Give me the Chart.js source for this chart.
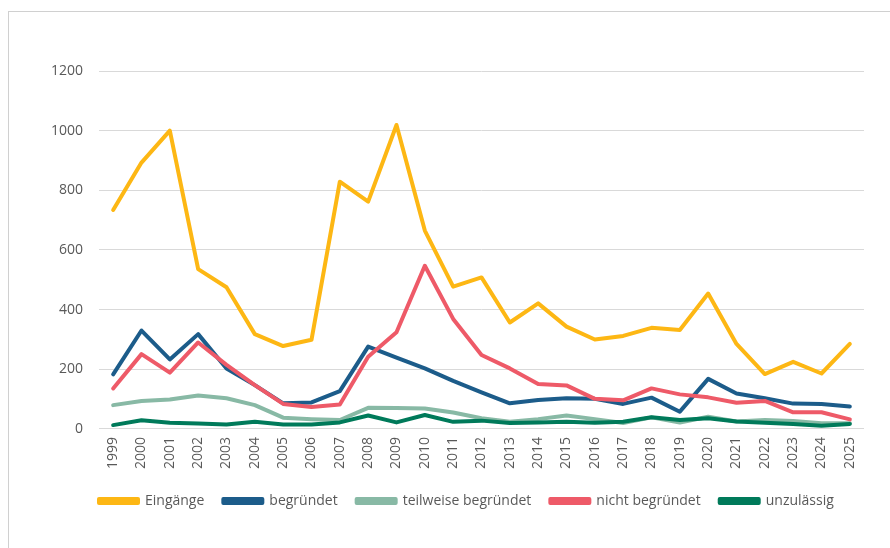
<!DOCTYPE html>
<html>
<head>
<meta charset="utf-8">
<script src="https://cdn.jsdelivr.net/npm/chart.js@4.4.1/dist/chart.umd.min.js"></script>
<style>
  html, body { margin: 0; padding: 0; background: #ffffff; }
  #wrap { position: relative; width: 890px; height: 548px; overflow: hidden; background: #ffffff; }
  #frame { position: absolute; left: 8px; top: 11px; width: 1000px; height: 1000px; border: 1px solid #d0d0d0; box-sizing: border-box; }
  #c { position: absolute; left: 0; top: 0; }
</style>
</head>
<body>
<div id="wrap">
  <div id="frame"></div>
  <canvas id="c" width="890" height="548"></canvas>
</div>
<script>
const years = ['1999','2000','2001','2002','2003','2004','2005','2006','2007','2008','2009','2010','2011','2012','2013','2014','2015','2016','2017','2018','2019','2020','2021','2022','2023','2024','2025'];
const eingaenge = [734, 893, 1000, 536, 475, 318, 278, 299, 829, 762, 1019, 665, 477, 508, 357, 421, 343, 300, 312, 339, 332, 454, 285, 184, 225, 186, 285];
const begruendet = [183, 330, 233, 318, 203, 147, 86, 89, 127, 276, 239, 203, 161, 123, 86, 97, 103, 101, 84, 105, 58, 168, 119, 103, 85, 84, 75];
const teilweiseBegruendet = [80, 94, 99, 112, 103, 80, 38, 33, 30, 71, 70, 69, 55, 36, 24, 33, 45, 33, 20, 39, 22, 41, 25, 30, 27, 19, 19];
const nichtBegruendet = [136, 251, 189, 290, 215, 147, 84, 74, 82, 242, 324, 547, 369, 248, 203, 151, 146, 101, 96, 136, 116, 106, 88, 94, 56, 56, 32];
const unzulaessig = [13, 29, 21, 18, 15, 24, 15, 15, 22, 45, 22, 47, 24, 28, 20, 22, 24, 21, 24, 39, 30, 36, 25, 21, 17, 11, 17];
const yTicks = [0, 200, 400, 600, 800, 1000, 1200];

const textColor = '#595959';
const fontFamily = '"Open Sans", sans-serif';

function series(label, data, color, order) {
  return {
    label: label,
    data: data,
    borderColor: color,
    backgroundColor: color,
    borderWidth: 4,
    pointRadius: 0,
    pointHoverRadius: 0,
    tension: 0,
    fill: false,
    borderCapStyle: 'round',
    borderJoinStyle: 'round',
    order: order
  };
}

const legendShift = {
  id: 'legendShift',
  afterLayout(chart) {
    if (chart.legend) {
      const w = chart.legend.right - chart.legend.left;
      chart.legend.left = 80;
      chart.legend.right = 80 + w;
    }
  }
};

new Chart(document.getElementById('c'), {
  type: 'line',
  data: {
    labels: years,
    datasets: [
      series('Eingänge', eingaenge, '#FDB714', 5),
      series('begründet', begruendet, '#1C5C8A', 4),
      series('teilweise begründet', teilweiseBegruendet, '#88B9A5', 3),
      series('nicht begründet', nichtBegruendet, '#EE5A68', 2),
      series('unzulässig', unzulaessig, '#007A5A', 1)
    ]
  },
  plugins: [legendShift],
  options: {
    responsive: false,
    animation: false,
    layout: { padding: { left: 0, right: 26, top: 71, bottom: 30 } },
    plugins: {
      tooltip: { enabled: false },
      title: { display: false },
      legend: {
        display: true,
        position: 'bottom',
        align: 'start',
        labels: {
          boxWidth: 39,
          boxHeight: 4,
          padding: 19,
          color: textColor,
          font: { family: fontFamily, size: 14 },
          sort: (a, b) => a.datasetIndex - b.datasetIndex
        }
      }
    },
    scales: {
      x: {
        offset: true,
        grid: { display: false, drawTicks: false },
        border: { display: false },
        afterFit(scale) { scale.height -= 2; },
        ticks: {
          color: textColor,
          font: { family: fontFamily, size: 14 },
          minRotation: 90,
          maxRotation: 90,
          padding: 8,
          autoSkip: false
        }
      },
      y: {
        min: 0,
        max: 1200,
        afterBuildTicks(scale) { scale.ticks = yTicks.map(v => ({ value: v })); },
        afterFit(scale) { scale.width = 99; },
        grid: { color: '#d9d9d9', lineWidth: 1, drawTicks: false },
        border: { display: false },
        ticks: {
          color: textColor,
          font: { family: fontFamily, size: 14 },
          padding: 16,
          callback: (v) => String(v)
        }
      }
    }
  }
});
</script>
</body>
</html>
